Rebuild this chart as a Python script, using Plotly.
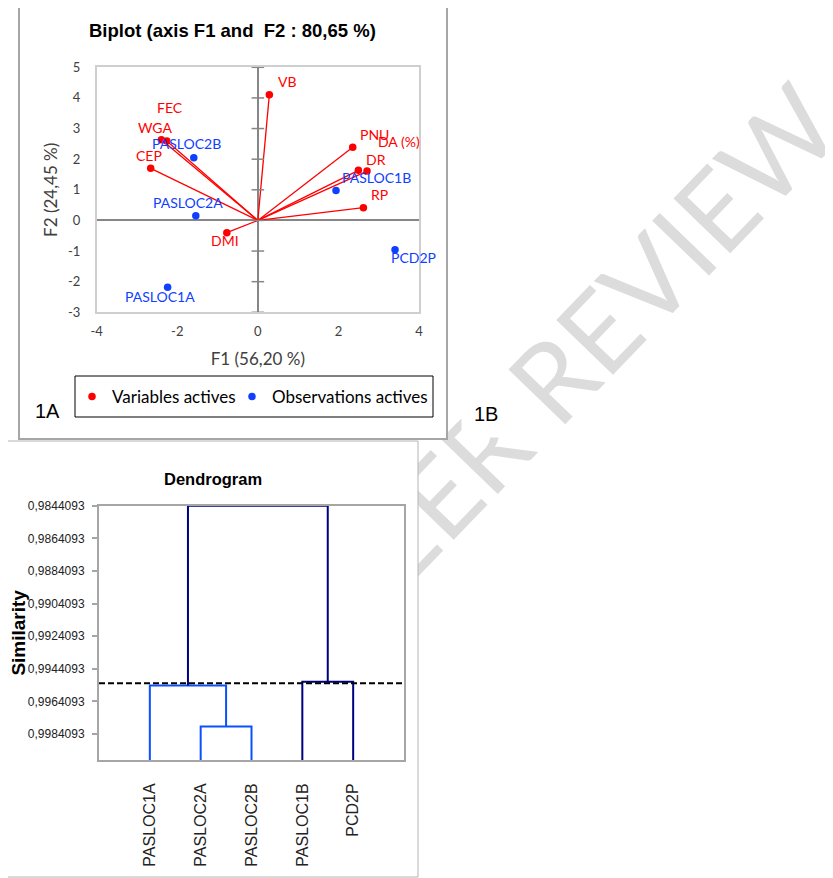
import plotly.graph_objects as go

# page offset of the plot div (browser body margin)
OFF = 8
W, H = 833 - OFF, 878 - OFF

# ---------------- Biplot data ----------------
var_names = ["VB", "FEC", "WGA", "CEP", "PNU", "DA (%)", "DR", "RP", "DMI"]
var_f1 = [0.285, -2.26, -2.395, -2.66, 2.355, 2.71, 2.495, 2.62, -0.77]
var_f2 = [4.10, 2.59, 2.635, 1.70, 2.39, 1.61, 1.635, 0.415, -0.40]

obs_names = ["PASLOC2B", "PASLOC1B", "PASLOC2A", "PCD2P", "PASLOC1A"]
obs_f1 = [-1.59, 1.94, -1.54, 3.405, -2.24]
obs_f2 = [2.05, 0.98, 0.15, -0.955, -2.18]

f1_ticks = [-4, -2, 0, 2, 4]
f1_ticklabels = ["-4", "-2", "0", "2", "4"]
f2_ticks = [-3, -2, -1, 0, 1, 2, 3, 4, 5]
f2_ticklabels = ["-3", "-2", "-1", "0", "1", "2", "3", "4", "5"]

# ---------------- Dendrogram data ----------------
leaf_names = ["PASLOC1A", "PASLOC2A", "PASLOC2B", "PASLOC1B", "PCD2P"]
merge_left = [1, 0, 3, 6]
merge_right = [2, 5, 4, 7]
merge_similarity = [0.99795, 0.99543, 0.99521, 0.9844093]
truncation_similarity = 0.99529
sim_ticks = [0.9844093, 0.9864093, 0.9884093, 0.9904093,
             0.9924093, 0.9944093, 0.9964093, 0.9984093]
sim_ticklabels = ["0,9844093", "0,9864093", "0,9884093", "0,9904093",
                  "0,9924093", "0,9944093", "0,9964093", "0,9984093"]

# ---------------- styles ----------------
RED = "#ff0000"
BLUE = "#1040ff"
LINK_BLUE = "#0a50ff"
NAVY = "#000080"
link_colors = [LINK_BLUE, LINK_BLUE, NAVY, NAVY]
CAL = "Lato, Carlito, Calibri, sans-serif"
ARIAL = "Liberation Sans, Arial, sans-serif"

# label offsets in pixels (dx right, dy up)
label_offsets = {
    "VB": (18, 13), "FEC": (3, 34), "WGA": (-6, 12), "CEP": (-2, 13),
    "PNU": (22, 13), "DA (%)": (32, 30), "DR": (18, 11), "RP": (16, 13),
    "DMI": (-2, -8),
    "PASLOC2B": (-7, 14), "PASLOC1B": (40, 13), "PASLOC2A": (-8, 13),
    "PCD2P": (18, -8), "PASLOC1A": (-8, -9),
}


def px(x):
    return (x - OFF) / W


def py(y):
    return 1 - (y - OFF) / H


fig = go.Figure()

# red vectors from origin
lx, ly = [], []
for a, b in zip(var_f1, var_f2):
    lx += [0, a, None]
    ly += [0, b, None]
fig.add_trace(go.Scatter(x=lx, y=ly, mode="lines", line=dict(color=RED, width=1.3),
                         showlegend=False, hoverinfo="skip", xaxis="x", yaxis="y"))

# tick marks on the vertical axis through x=0
fig.add_trace(go.Scatter(x=[0] * len(f2_ticks), y=f2_ticks, mode="markers",
                         marker=dict(symbol="line-ew", size=9,
                                     line=dict(color="#868686", width=1.5)),
                         showlegend=False, hoverinfo="skip", cliponaxis=False,
                         xaxis="x", yaxis="y"))

fig.add_trace(go.Scatter(x=var_f1, y=var_f2, mode="markers", name="Variables actives",
                         marker=dict(color=RED, size=7.5), text=var_names,
                         legend="legend", xaxis="x", yaxis="y"))
fig.add_trace(go.Scatter(x=obs_f1, y=obs_f2, mode="markers", name="Observations actives",
                         marker=dict(color=BLUE, size=7.5), text=obs_names,
                         legend="legend2", xaxis="x", yaxis="y"))

annotations = []
for n, a, b in zip(var_names, var_f1, var_f2):
    dx, dy = label_offsets[n]
    annotations.append(dict(x=a, y=b, xref="x", yref="y", text=n, showarrow=False,
                            xanchor="center", yanchor="middle",
                            xshift=dx, yshift=dy, font=dict(family=CAL, size=14, color=RED)))
for n, a, b in zip(obs_names, obs_f1, obs_f2):
    dx, dy = label_offsets[n]
    annotations.append(dict(x=a, y=b, xref="x", yref="y", text=n, showarrow=False,
                            xanchor="center", yanchor="middle",
                            xshift=dx, yshift=dy, font=dict(family=CAL, size=14, color=BLUE)))

# ---------------- dendrogram ----------------
node_x = [i + 1 for i in range(len(leaf_names))]
node_h = [1.0] * len(leaf_names)
for k, (l, r, h) in enumerate(zip(merge_left, merge_right, merge_similarity)):
    xs = [node_x[l], node_x[l], node_x[r], node_x[r]]
    ys = [node_h[l], h, h, node_h[r]]
    fig.add_trace(go.Scatter(x=xs, y=ys, mode="lines",
                             line=dict(color=link_colors[k], width=2),
                             showlegend=False, hoverinfo="skip", cliponaxis=False,
                             xaxis="x2", yaxis="y2"))
    node_x.append((node_x[l] + node_x[r]) / 2)
    node_h.append(h)

shapes = [
    # watermark
    dict(type="rect", xref="paper", yref="paper", layer="below",
         x0=px(560), x1=px(580), y0=py(366), y1=py(346),
         line=dict(width=0), fillcolor="rgba(0,0,0,0)",
         label=dict(text="PEER REVIEW", textangle=-46, textposition="middle center",
                    font=dict(family=CAL, size=110, color="#dcdcdc"))),
    # biplot panel
    dict(type="rect", xref="paper", yref="paper", layer="below",
         x0=px(19), x1=px(447), y0=py(439), y1=py(3),
         line=dict(color="#a6a6a6", width=2), fillcolor="white"),
    # legend box
    dict(type="rect", xref="paper", yref="paper", layer="below",
         x0=px(75), x1=px(433), y0=py(417), y1=py(376),
         line=dict(color="black", width=1), fillcolor="white"),
    # dendrogram panel
    dict(type="rect", xref="paper", yref="paper", layer="below",
         x0=px(7), x1=px(418), y0=py(877), y1=py(441),
         line=dict(color="#b4b4b4", width=1), fillcolor="white"),
    # truncation line
    dict(type="line", xref="x2 domain", yref="y2", x0=0, x1=1,
         y0=truncation_similarity, y1=truncation_similarity,
         line=dict(color="black", width=2, dash="6px,3px")),
]

annotations += [
    dict(x=px(232), y=py(31), xref="paper", yref="paper", showarrow=False,
         xanchor="center", yanchor="middle",
         text="<b>Biplot (axis F1 and  F2 : 80,65 %)</b>",
         font=dict(family=ARIAL, size=18.5, color="black")),
    dict(x=px(47), y=py(411), xref="paper", yref="paper", showarrow=False,
         xanchor="center", yanchor="middle",
         text="1A", font=dict(family=ARIAL, size=20, color="black")),
    dict(x=px(486), y=py(414), xref="paper", yref="paper", showarrow=False,
         xanchor="center", yanchor="middle",
         text="1B", font=dict(family=ARIAL, size=20, color="black"),
         bgcolor="white", borderpad=12),
    dict(x=px(213), y=py(479), xref="paper", yref="paper", showarrow=False,
         xanchor="center", yanchor="middle",
         text="<b>Dendrogram</b>",
         font=dict(family=ARIAL, size=16.5, color="black")),
]

legend_common = dict(orientation="h", xanchor="left", yanchor="middle",
                     borderwidth=0, bgcolor="rgba(0,0,0,0)",
                     font=dict(family=CAL, size=17, color="black"))

fig.update_layout(
    template="none",
    width=W, height=H, margin=dict(l=0, r=0, t=0, b=0, pad=0, autoexpand=False),
    paper_bgcolor="white", plot_bgcolor="rgba(0,0,0,0)",
    showlegend=True,
    legend=dict(x=px(72), y=py(397), **legend_common),
    legend2=dict(x=px(232), y=py(397), **legend_common),
    xaxis=dict(domain=[px(96.7), px(419)], range=[-4, 4], tickvals=f1_ticks,
               ticktext=f1_ticklabels, showgrid=False, zeroline=True, automargin=False,
               zerolinecolor="#868686", zerolinewidth=2, showline=True, mirror=True,
               linecolor="#cfcfcf", linewidth=1.5, ticks="", ticklabelstandoff=6,
               tickfont=dict(family=CAL, size=13, color="#404040"),
               title=dict(text="F1 (56,20 %)", standoff=15,
                          font=dict(family=CAL, size=17, color="#404040")),
               anchor="y"),
    yaxis=dict(domain=[py(312.3), py(67.3)], range=[-3, 5], tickvals=f2_ticks,
               ticktext=f2_ticklabels, showgrid=False, zeroline=True, automargin=False,
               zerolinecolor="#868686", zerolinewidth=2, showline=True, mirror=True,
               linecolor="#cfcfcf", linewidth=1.5, ticks="", ticklabelstandoff=12,
               tickfont=dict(family=CAL, size=13, color="#404040"),
               title=dict(text="F2 (24,45 %)", standoff=6,
                          font=dict(family=CAL, size=17, color="#404040")),
               anchor="x"),
    xaxis2=dict(domain=[px(99), px(404)], range=[0, 6], tickvals=node_x[:len(leaf_names)],
                ticktext=leaf_names, tickangle=-90, showgrid=False, zeroline=False,
                automargin=False,
                showline=True, mirror=True, linecolor="#a6a6a6", linewidth=2,
                ticks="", ticklabelstandoff=15,
                tickfont=dict(family=ARIAL, size=16, color="#222222"), anchor="y2"),
    yaxis2=dict(domain=[py(760), py(505.7)], range=[1.0, 0.9844093], tickvals=sim_ticks,
                ticktext=sim_ticklabels, showgrid=False, zeroline=False, automargin=False,
                showline=True, mirror=True, linecolor="#a6a6a6", linewidth=2,
                ticks="outside", ticklen=5, tickcolor="#a6a6a6", tickwidth=1.5,
                ticklabelstandoff=5,
                tickfont=dict(family=ARIAL, size=12, color="#222222"),
                title=dict(text="<b>Similarity</b>", standoff=3,
                           font=dict(family=ARIAL, size=19, color="black")),
                anchor="x2"),
    shapes=shapes, annotations=annotations,
)

fig.write_html("out.html")
